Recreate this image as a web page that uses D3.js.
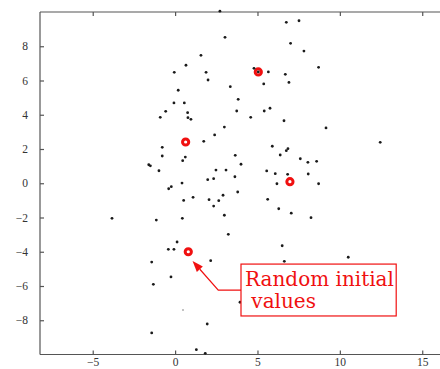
<!DOCTYPE html>
<html>
<head>
<meta charset="utf-8">
<script src="https://cdn.jsdelivr.net/npm/d3@7"></script>
<style>
  html, body { margin: 0; padding: 0; background: #fff; }
  svg { display: block; }
</style>
</head>
<body>
<div id="chart"></div>
<script>
// ---- data ----
const pointsX = [1.57,0.66,-0.05,1.88,2.00,0.19,-0.07,0.56,-0.57,0.76,-0.90,0.78,0.96,2.40,1.74,-0.78,-0.78,0.62,0.46,-1.60,-1.50,-0.98,2.48,1.98,2.34,0.42,
  2.72,6.75,7.52,3.03,7.01,7.82,4.79,5.05,5.66,6.69,8.71,6.91,5.38,3.35,3.83,3.74,5.41,5.76,4.59,6.61,2.99,9.16,12.45,5.90,6.85,6.75,3.65,6.38,4.00,7.60,8.06,8.59,3.09,3.63,5.56,6.08,6.83,8.08,6.18,8.71,
  -0.39,-0.23,0.52,1.09,2.06,2.34,2.65,-3.83,-1.14,0.44,0.12,-0.41,-0.07,-1.42,2.16,-0.25,-1.32,1.95,-1.42,1.29,1.83,
  2.91,3.80,5.62,6.29,7.05,8.25,2.99,3.23,6.50,6.63,10.51,3.94];
const pointsY = [7.47,6.89,6.48,6.48,6.03,5.43,4.69,4.69,4.20,4.12,3.85,3.83,3.73,2.82,2.45,2.10,1.59,1.53,1.32,1.08,1.02,0.73,0.77,0.21,0.27,0.01,
  10.05,9.40,9.49,8.52,8.17,7.72,6.71,6.50,6.50,6.36,6.77,5.89,5.80,5.64,4.90,4.22,4.22,4.38,3.85,3.65,3.28,3.23,2.39,2.16,2.02,1.90,1.63,1.65,1.11,1.43,1.22,1.28,0.77,0.38,0.72,0.56,0.52,0.54,-0.03,-0.03,
  -0.32,-0.20,-1.00,-0.82,-0.96,-1.33,-1.02,-2.05,-2.15,-2.05,-3.43,-3.86,-3.86,-4.60,-4.52,-5.47,-5.90,-8.22,-8.74,-9.72,-9.93,
  -0.70,-0.51,-0.94,-1.49,-1.75,-2.01,-1.87,-2.98,-3.65,-4.56,-4.32,-6.95];
const faintX = [0.48];
const faintY = [-7.40];
const initX = [0.64, 5.05, 6.97, 0.80];
const initY = [2.41, 6.50, 0.09, -4.00];
const xTicks = [-5, 0, 5, 10, 15];
const yTicks = [-8, -6, -4, -2, 0, 2, 4, 6, 8];
const annotationLines = ["Random initial", " values"];

// ---- drawing ----
const W = 440, H = 369;
const svg = d3.select("#chart").append("svg").attr("width", W).attr("height", H);

const x = d3.scaleLinear().domain([-8.2, 16.2]).range([40, 442]);
const y = d3.scaleLinear().domain([-10, 10]).range([354.5, 12]);

const axisColor = "#555";
const tickFont = "'Liberation Serif', 'Times New Roman', serif";

// frame
const g = svg.append("g");
g.append("line").attr("x1", x(-8.2)).attr("x2", x(16.2)).attr("y1", y(10)).attr("y2", y(10))
  .attr("stroke", axisColor).attr("stroke-width", 1.2);
g.append("line").attr("x1", x(-8.2)).attr("x2", x(16.2)).attr("y1", y(-10)).attr("y2", y(-10))
  .attr("stroke", axisColor).attr("stroke-width", 1.2);
g.append("line").attr("x1", x(-8.2)).attr("x2", x(-8.2)).attr("y1", y(10)).attr("y2", y(-10))
  .attr("stroke", axisColor).attr("stroke-width", 1.2);

const fmt = d => d < 0 ? "\u2212" + Math.abs(d) : String(d);

// bottom axis (inward ticks)
const xb = d3.axisBottom(x).tickValues(xTicks).tickSizeInner(-4).tickSizeOuter(0)
  .tickPadding(3.5).tickFormat(fmt);
const gxb = svg.append("g").attr("transform", `translate(0,${y(-10)})`).call(xb);
// top axis ticks
const xt = d3.axisTop(x).tickValues(xTicks).tickSizeInner(-4).tickSizeOuter(0).tickFormat("");
const gxt = svg.append("g").attr("transform", `translate(0,${y(10)})`).call(xt);
// left axis
const yl = d3.axisLeft(y).tickValues(yTicks).tickSizeInner(-4).tickSizeOuter(0)
  .tickPadding(12).tickFormat(fmt);
const gyl = svg.append("g").attr("transform", `translate(${x(-8.2)},0)`).call(yl);

[gxb, gxt, gyl].forEach(a => {
  a.attr("font-family", tickFont).attr("font-size", 11.5);
  a.select(".domain").remove();
  a.selectAll(".tick line").attr("stroke", axisColor).attr("stroke-width", 1.2);
  a.selectAll(".tick text").attr("fill", "#333").attr("font-family", tickFont).attr("font-size", 11.5);
});

// data points
const pts = pointsX.map((v, i) => ({ x: v, y: pointsY[i] }));
const init = initX.map((v, i) => ({ x: v, y: initY[i] }));
const faint = faintX.map((v, i) => ({ x: v, y: faintY[i] }));

svg.append("g").selectAll("circle").data(init).join("circle")
  .attr("cx", d => x(d.x)).attr("cy", d => y(d.y)).attr("r", 3.1)
  .attr("fill", "#fff").attr("stroke", "#f01010").attr("stroke-width", 3);

svg.append("g").selectAll("circle").data(pts).join("circle")
  .attr("cx", d => x(d.x)).attr("cy", d => y(d.y)).attr("r", 1.4)
  .attr("fill", "#1a1a1a");

svg.append("g").selectAll("circle").data(faint).join("circle")
  .attr("cx", d => x(d.x)).attr("cy", d => y(d.y)).attr("r", 0.8)
  .attr("fill", "#777");

// annotation
const red = "#f01010";
const boxX0 = x(4.0), boxX1 = x(13.42), boxY0 = y(-4.72), boxY1 = y(-7.75);
const elbow = [x(2.62), y(-6.24)];
const tip = [x(1.06), y(-4.54)];
const start = [boxX0, y(-6.24)];

const ang = Math.atan2(tip[1] - elbow[1], tip[0] - elbow[0]);
const headLen = 11, headW = 4;
const base = [tip[0] - headLen * Math.cos(ang), tip[1] - headLen * Math.sin(ang)];

svg.append("path")
  .attr("d", d3.line()([start, elbow, base]))
  .attr("fill", "none").attr("stroke", red).attr("stroke-width", 1.2);
svg.append("path")
  .attr("d", d3.line()([
    tip,
    [base[0] + headW * Math.sin(ang), base[1] - headW * Math.cos(ang)],
    [base[0] - headW * Math.sin(ang), base[1] + headW * Math.cos(ang)]
  ]) + "Z")
  .attr("fill", red);

svg.append("rect")
  .attr("x", boxX0).attr("y", boxY0).attr("width", boxX1 - boxX0).attr("height", boxY1 - boxY0)
  .attr("fill", "#fff").attr("stroke", red).attr("stroke-width", 1.2);

svg.append("g").selectAll("text").data(annotationLines).join("text")
  .attr("x", boxX0 + 4)
  .attr("y", (d, i) => boxY0 + 21.5 + i * 22.5)
  .attr("fill", red)
  .style("font-family", "'DejaVu Serif', serif")
  .style("font-size", "20px")
  .style("white-space", "pre")
  .text(d => d);
</script>
</body>
</html>
